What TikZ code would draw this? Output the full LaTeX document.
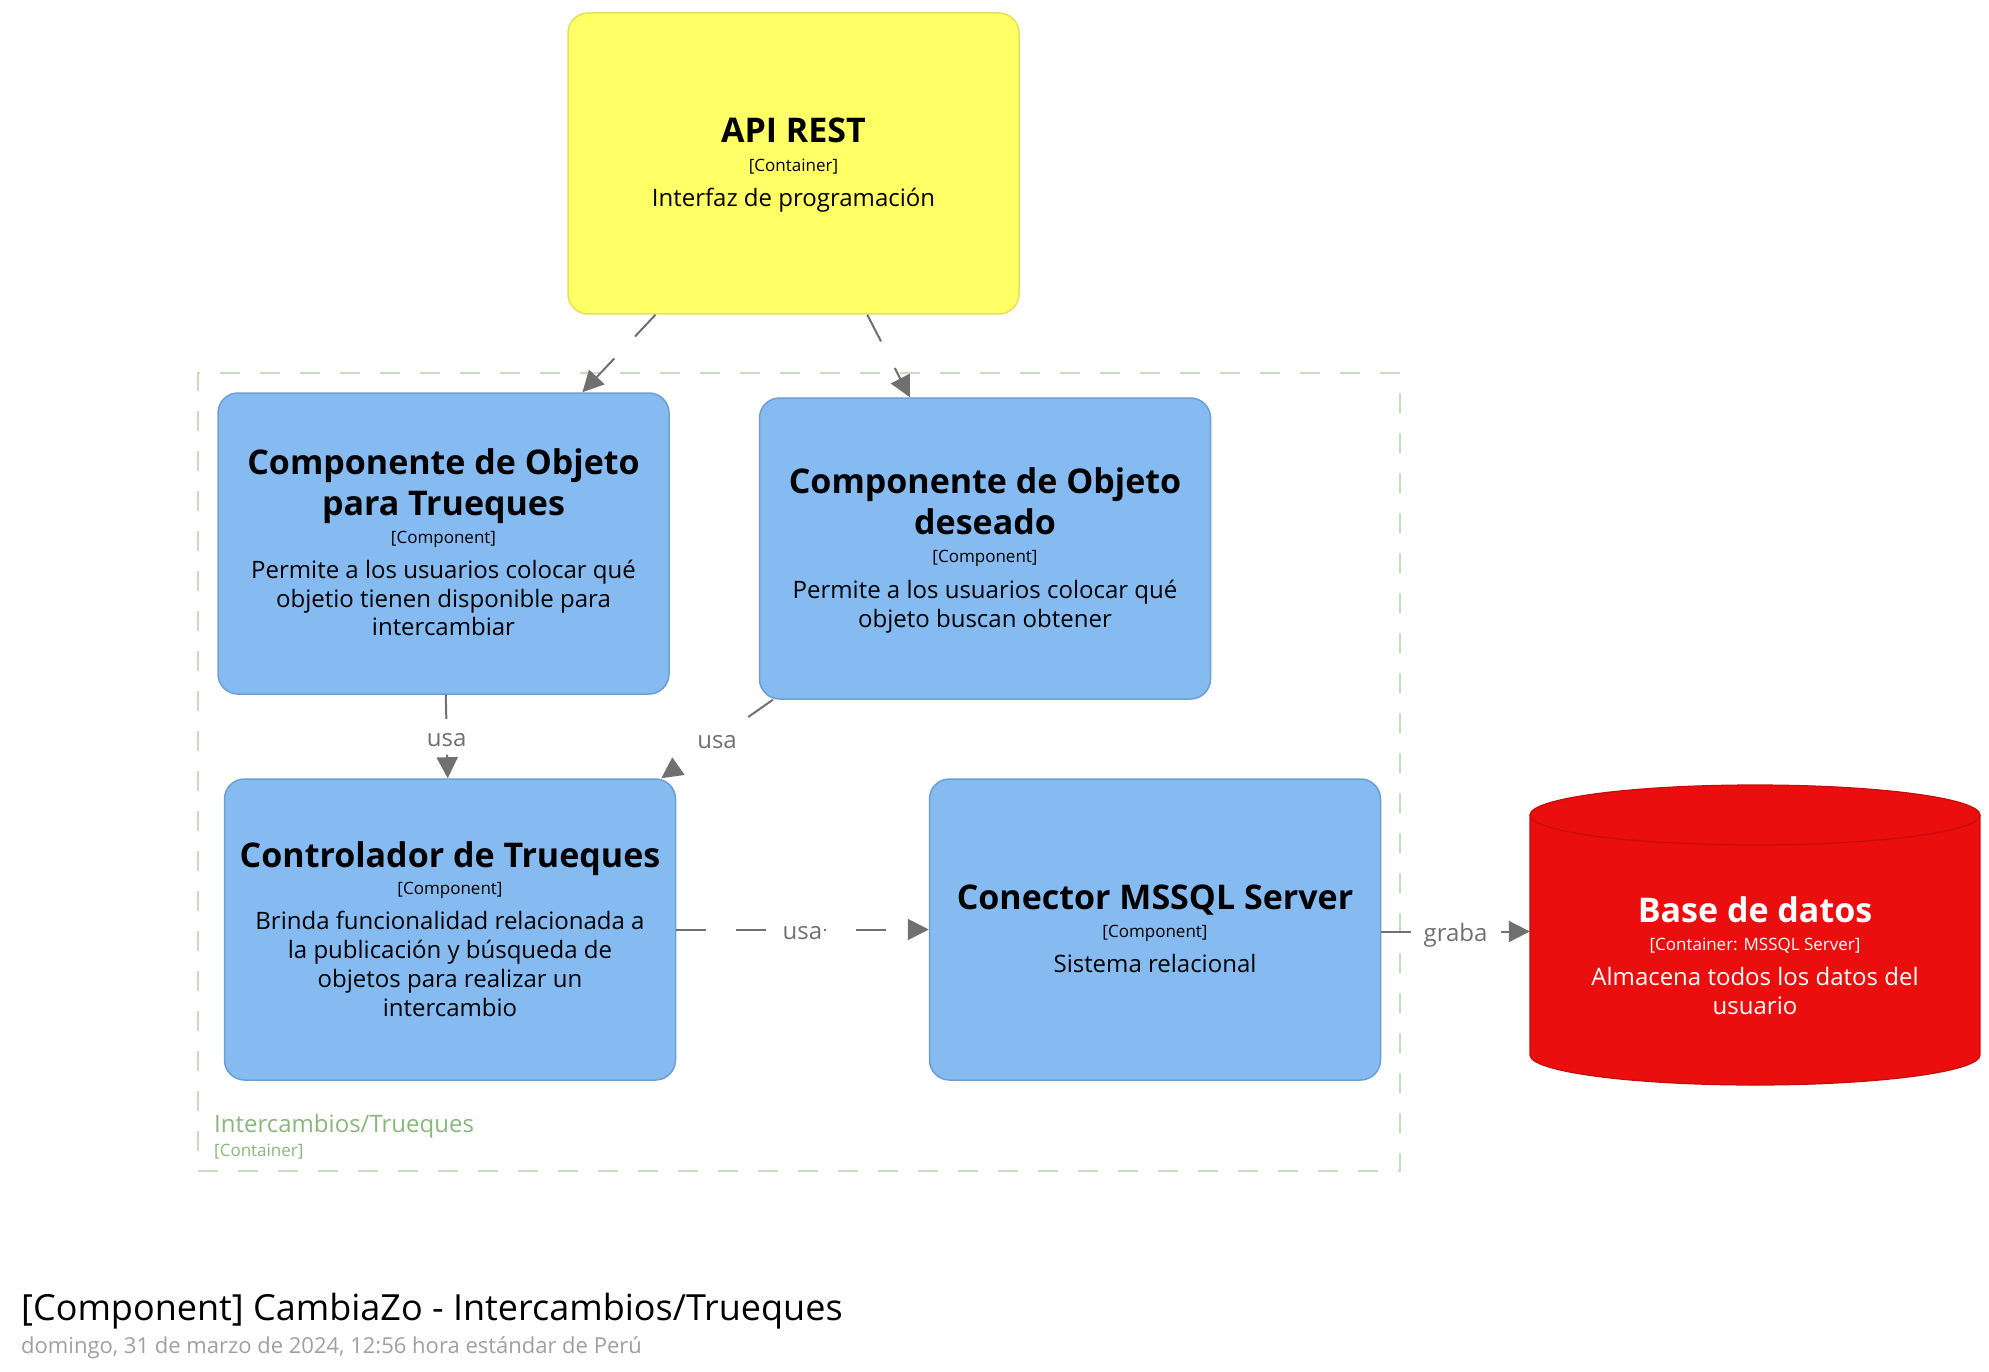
\documentclass[tikz,border=0pt]{standalone}
\usepackage{fontspec}
\setmainfont{Open Sans}
\usetikzlibrary{arrows.meta,calc}
\definecolor{compblue}{HTML}{85BBF0}
\definecolor{compborder}{HTML}{6D9ED4}
\definecolor{apiyellow}{HTML}{FFFF66}
\definecolor{apiborder}{HTML}{E2E25A}
\definecolor{dbred}{HTML}{EB0E0E}
\definecolor{dbborder}{HTML}{C70C0C}
\definecolor{linegray}{HTML}{707070}
\definecolor{bndline}{HTML}{C6DDC0}
\definecolor{bndtext}{HTML}{8AB87C}
\definecolor{dategray}{HTML}{A0A0A0}
\tikzset{
  cbox/.style={rounded corners=20pt, fill=compblue, draw=compborder, line width=1.5pt,
    minimum width=451pt, minimum height=301pt, inner sep=0pt},
  apibox/.style={cbox, fill=apiyellow, draw=apiborder},
  ghost/.style={minimum width=450pt, minimum height=300pt, inner sep=0pt},
  boundary/.style={draw=bndline, line width=2pt, dash pattern=on 20pt off 20pt,
    minimum width=1202pt, minimum height=798pt, inner sep=0pt},
  ttl/.style={anchor=base, inner sep=0pt, font=\fontsize{34}{40}\selectfont\bfseries},
  tech/.style={anchor=base, inner sep=0pt, font=\fontsize{17}{20}\selectfont},
  desc/.style={anchor=base, inner sep=0pt, font=\fontsize{24}{28}\selectfont},
  conn/.style={draw=linegray, line width=2pt, dash pattern=on 30pt off 30pt,
    -{Triangle[length=21pt,width=21pt]}},
  lbl/.style={fill=white, text=linegray, font=\fontsize{24}{28}\selectfont,
    inner xsep=2pt, inner ysep=2pt, text height=25pt, text depth=6pt},
}
\begin{document}
\begin{tikzpicture}[x=1pt,y=-1pt]
\useasboundingbox (0,0) rectangle (1989,1372);
\fill[white] (0,0) rectangle (1989,1372);

% container boundary
\node[boundary] (cont) at (799,772) {};
\node[anchor=base west, inner sep=0pt, text=bndtext, font=\fontsize{24}{28}\selectfont] (contname) at (214,1132) {Intercambios/Trueques};
\node[anchor=base west, inner sep=0pt, text=bndtext, font=\fontsize{17}{20}\selectfont] (conttech) at (214,1156) {[Container]};

% API REST
\node[apibox] (api) at (793.5,163.5) {};
\node[ttl] (apit) at (793.5,143) {API REST};
\node[tech] (apik) at (793.5,172) {[Container]};
\node[desc] (apid) at (793.5,207) {Interfaz de programación};

% Box 1
\node[cbox] (b1) at (443.5,543.5) {};
\node[ttl] (b1t1) at (443.5,474) {Componente de Objeto};
\node[ttl] (b1t2) at (443.5,515) {para Trueques};
\node[tech] (b1k) at (443.5,543) {[Component]};
\node[desc] (b1d1) at (443.5,578) {Permite a los usuarios colocar qué};
\node[desc] (b1d2) at (443.5,607) {objetio tienen disponible para};
\node[desc] (b1d3) at (443.5,635) {intercambiar};

% Box 2
\node[cbox] (b2) at (985,548.5) {};
\node[ttl] (b2t1) at (985,493) {Componente de Objeto};
\node[ttl] (b2t2) at (985,534) {deseado};
\node[tech] (b2k) at (985,562) {[Component]};
\node[desc] (b2d1) at (985,598) {Permite a los usuarios colocar qué};
\node[desc] (b2d2) at (985,627) {objeto buscan obtener};

% Box 4
\node[cbox] (b4) at (450,929.5) {};
\node[ttl] (b4t1) at (450,867) {Controlador de Trueques};
\node[tech] (b4k) at (450,894) {[Component]};
\node[desc] (b4d1) at (450,929) {Brinda funcionalidad relacionada a};
\node[desc] (b4d2) at (450,958) {la publicación y búsqueda de};
\node[desc] (b4d3) at (450,987) {objetos para realizar un};
\node[desc] (b4d4) at (450,1016) {intercambio};

% Box 5
\node[cbox] (b5) at (1155,929.5) {};
\node[ttl] (b5t1) at (1155,909) {Conector MSSQL Server};
\node[tech] (b5k) at (1155,937) {[Component]};
\node[desc] (b5d1) at (1155,972) {Sistema relacional};

% Database cylinder
\node[ghost] (db) at (1755,935) {};
\fill[dbred] (1530,815) rectangle (1980,1055);
\fill[dbred] (1755,1055) ellipse [x radius=225, y radius=30];
\fill[dbred] (1755,815) ellipse [x radius=225, y radius=30];
\draw[dbborder, line width=1.2pt] (1755,815) ellipse [x radius=225, y radius=30];
\draw[dbborder, line width=1.2pt] (1530,815) -- (1530,1055)
  arc[start angle=180, end angle=0, x radius=225, y radius=30] -- (1980,815);
\node[ttl, text=white] (dbt) at (1755,922) {Base de datos};
\node[tech, text=white] (dbk) at (1755,950) {[Container: MSSQL Server]};
\node[desc, text=white] (dbd1) at (1755,985) {Almacena todos los datos del};
\node[desc, text=white] (dbd2) at (1755,1014) {usuario};

% connectors
\draw[conn] ($(api.south west)!0.195!(api.south east)$) -- ($(b1.north west)!0.807!(b1.north east)$);
\draw[conn] ($(api.south west)!0.663!(api.south east)$) -- ($(b2.north west)!0.334!(b2.north east)$);
\draw[conn] ($(b1.south west)!0.505!(b1.south east)$) -- node[lbl] (l1) {usa} ($(b4.north west)!0.495!(b4.north east)$);
\draw[conn] ($(b2.south west)!0.031!(b2.south east)$) -- node[lbl] (l2) {usa} ($(b4.north west)!0.967!(b4.north east)$);
\draw[conn] (b4.east) -- node[lbl] (l3) {usa} (b4.east -| b5.west);
\draw[conn] ($(b5.east)+(0,2)$) -- node[lbl] (l4) {graba} ($(b5.east -| db.west)+(0,2)$);

% title
\node[anchor=base west, inner sep=0pt, font=\fontsize{36}{42}\selectfont] (title) at (21,1320) {[Component] CambiaZo - Intercambios/Trueques};
\node[anchor=base west, inner sep=0pt, text=dategray, font=\fontsize{22}{26}\selectfont] (date) at (21,1353) {domingo, 31 de marzo de 2024, 12:56 hora estándar de Perú};
\end{tikzpicture}
\end{document}
